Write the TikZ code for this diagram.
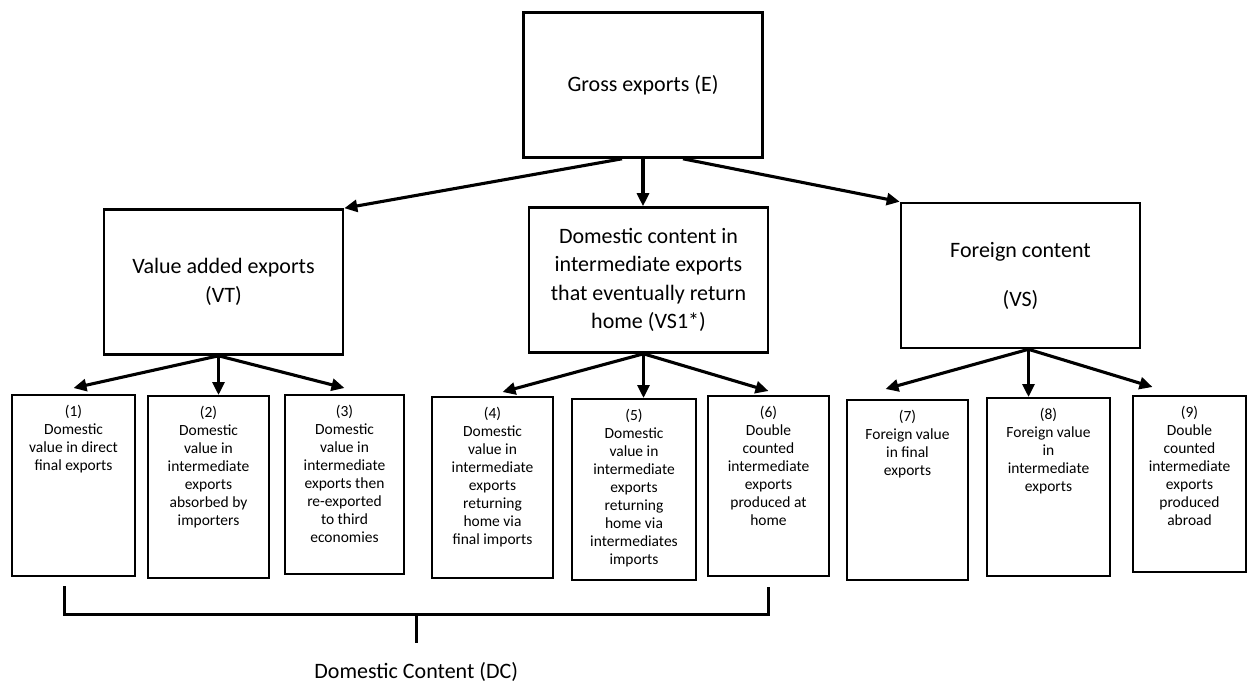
\documentclass[tikz,border=0pt]{standalone}
\usepackage{fontspec}
\setmainfont{Carlito}
\usetikzlibrary{arrows.meta,positioning,calc}

\newcommand{\leaftext}[3]{\parbox[t][#2][t]{#1}{\centering #3}}

\begin{document}
\begin{tikzpicture}[x=1pt, y=-1pt,
  bigbox/.style={draw, line width=2.6pt, minimum width=239pt, minimum height=145pt,
    align=center, font=\fontsize{22}{28.5}\selectfont},
  leaf/.style={draw, line width=2.2pt, anchor=north, inner xsep=4.5pt, inner ysep=10pt,
    font=\fontsize{15.5}{18}\selectfont},
  arr/.style={-{Triangle[length=13pt,width=12pt]}, line width=3.1pt},
  brace/.style={line width=3pt},
  lbl/.style={font=\fontsize{22}{26}\selectfont}
]
  \useasboundingbox (0,0) rectangle (1248,682);

  \node[bigbox] (gross) at (643,85) {Gross exports (E)};
  \node[bigbox] (vt) at (223.5,282) {Value added exports\\(VT)};
  \node[bigbox] (vsone) at (648.5,280) {Domestic content in\\intermediate exports\\that eventually return\\home (VS1*)};
  \node[bigbox] (vs) at (1020.5,275.5) {Foreign content\\[20.5pt](VS)};

  \node[leaf] (b1) at (73.5,394) {\leaftext{114pt}{161pt}{(1)\\Domestic\\value in direct\\final exports}};
  \node[leaf] (b2) at (208.5,395) {\leaftext{112pt}{162pt}{(2)\\Domestic\\value in\\intermediate\\exports\\absorbed by\\importers}};
  \node[leaf] (b3) at (344.5,394) {\leaftext{110pt}{159pt}{(3)\\Domestic\\value in\\intermediate\\exports then\\re-exported\\to third\\economies}};
  \node[leaf] (b4) at (492.5,396) {\leaftext{112pt}{161pt}{(4)\\Domestic\\value in\\intermediate\\exports\\returning\\home via\\final imports}};
  \node[leaf] (b5) at (634,398) {\leaftext{115pt}{161pt}{(5)\\Domestic\\value in\\intermediate\\exports\\returning\\home via\\intermediates\\imports}};
  \node[leaf] (b6) at (768.5,395) {\leaftext{112pt}{160pt}{(6)\\Double\\counted\\intermediate\\exports\\produced at\\home}};
  \node[leaf] (b7) at (907.5,399) {\leaftext{112pt}{160pt}{(7)\\Foreign value\\in final\\exports}};
  \node[leaf] (b8) at (1048.5,397) {\leaftext{114pt}{158pt}{(8)\\Foreign value\\in\\intermediate\\exports}};
  \node[leaf] (b9) at (1189.5,395) {\leaftext{104pt}{156pt}{(9)\\Double\\counted\\intermediate\\exports\\produced\\abroad}};

  % gross exports split
  \draw[arr] ([xshift=-21pt]gross.south) -- (vt.north east);
  \draw[arr] (gross.south) -- (gross.south |- vsone.north);
  \draw[arr] ([xshift=40pt]gross.south) -- (vs.north west);

  % second level fans
  \coordinate (vtfan) at ([xshift=-5pt]vt.south);
  \draw[arr] (vtfan) -- ([yshift=6pt]b1.north);
  \draw[arr] (vtfan) -- (vtfan |- b2.north);
  \draw[arr] (vtfan) -- ([yshift=6pt]b3.north);

  \coordinate (vsonefan) at ([xshift=-5pt]vsone.south);
  \draw[arr] (vsonefan) -- ([xshift=10pt,yshift=4pt]b4.north);
  \draw[arr] (vsonefan) -- (vsonefan |- b5.north);
  \draw[arr] (vsonefan) -- ([yshift=4pt]b6.north);

  \coordinate (vsfan) at ([xshift=8pt]vs.south);
  \draw[arr] (vsfan) -- ([xshift=-22pt,yshift=10pt]b7.north);
  \draw[arr] (vsfan) -- (vsfan |- b8.north);
  \draw[arr] (vsfan) -- ([xshift=-37pt,yshift=8pt]b9.north);

  % domestic content bracket
  \coordinate (dcl) at ([xshift=-9.5pt,yshift=-9pt]b1.south);
  \coordinate (dcr) at ([yshift=-10pt]b6.south);
  \coordinate (dcbar) at ([yshift=-28pt]dcl);
  \draw[brace] (dcl) -- (dcbar) -| (dcr);
  \coordinate (dcmid) at ($(dcbar)!0.5!(dcr |- dcbar)$);
  \coordinate (dcend) at ([yshift=-29pt]dcmid);
  \draw[brace] (dcmid) -- (dcend);
  \node[lbl, below=16pt of dcend] (dc) {Domestic Content (DC)};
\end{tikzpicture}
\end{document}
